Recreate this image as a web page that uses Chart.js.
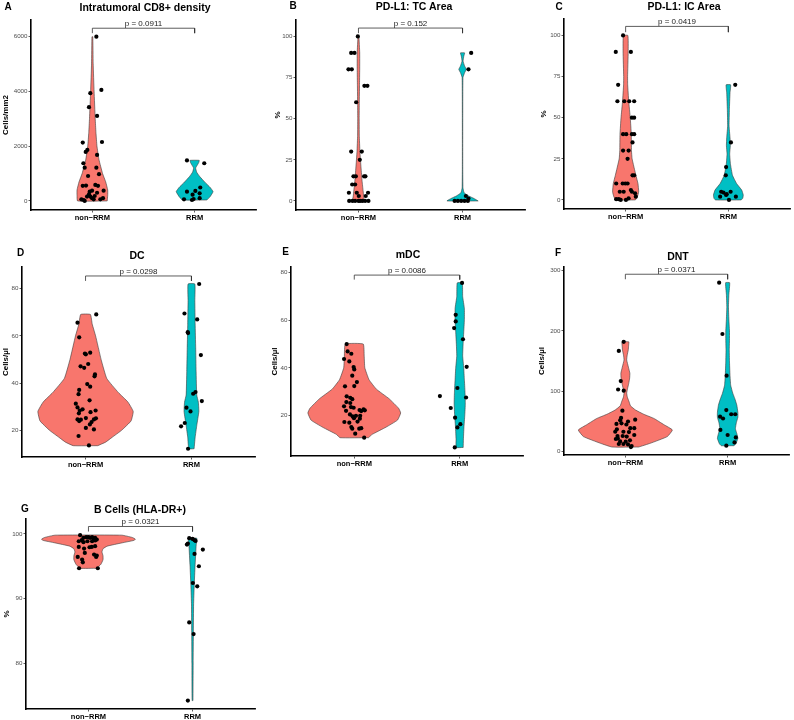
<!DOCTYPE html>
<html>
<head>
<meta charset="utf-8">
<script src="https://cdn.jsdelivr.net/npm/chart.js@4.4.0/dist/chart.umd.min.js"></script>
<style>
  html, body { margin: 0; padding: 0; background: #fff; }
  body { width: 794px; height: 720px; position: relative; overflow: hidden;
         font-family: "Liberation Sans", Arial, Helvetica, sans-serif; }
  .panel { position: absolute; }
  .tag { position: absolute; font-weight: bold; font-size: 10px; transform: translate(-50%, -50%); }
  .ttl { position: absolute; font-weight: bold; font-size: 10.5px; white-space: nowrap; transform: translate(-50%, -50%); }
</style>
</head>
<body>
<script>
const groups = ['non−RRM', 'RRM'];

// points are [jitter, value], violin outlines are [value, half width]
// A - Intratumoral CD8+ density
const cd8Ticks = [0, 2000, 4000, 6000];
const cd8NonPts = [[0.039,5990],[-0.02,3930],[0.088,4050],[-0.033,3420],[0.046,3100],[-0.094,2130],[0.094,2150],[-0.049,1860],[-0.065,1790],[0.046,1680],[-0.088,1375],[-0.075,1215],[0.039,1215],[-0.042,910],[0.065,975],[-0.094,550],[-0.062,560],[0.029,585],[0.055,550],[-0.003,375],[-0.026,340],[0.046,300],[0.11,375],[-0.052,160],[-0.003,100],[0.078,60],[-0.085,35],[-0.075,0],[0.013,60],[-0.107,60],[0.104,100],[-0.033,240],[0.023,180],[-0.02,160]];
const cd8RrmPts = [[-0.075,1480],[0.094,1375],[-0.075,340],[0.007,365],[0.055,490],[0.049,280],[-0.02,230],[-0.104,60],[-0.026,35],[-0.01,70],[0.049,100]];
const cd8NonShape = [[0,0.145],[200,0.15],[400,0.15],[700,0.13],[1000,0.1],[1500,0.065],[2000,0.045],[2500,0.035],[3000,0.028],[4000,0.017],[5000,0.008],[5990,0.004]];
const cd8RrmShape = [[35,0.12],[150,0.15],[340,0.18],[500,0.15],[645,0.11],[890,0.05],[1050,0.02],[1200,0.01],[1300,0.025],[1400,0.04],[1480,0.045]];

// B - PD-L1: TC Area
const tcTicks = [0, 25, 50, 75, 100];
const tcNonPts = [[-0.006,100],[-0.07,90],[-0.038,90],[-0.096,80],[-0.064,80],[0.057,70],[0.086,70],[-0.022,60],[-0.07,30],[0.032,30],[0.013,25],[-0.048,15],[-0.025,15],[0.054,15],[0.067,15],[-0.06,10],[-0.032,10],[-0.092,5],[-0.016,5],[0.092,5],[0.003,3],[0.07,3],[-0.089,0],[-0.057,0],[-0.032,0],[0.016,0],[0.038,0],[0.064,0],[0.096,0],[0,0]];
const tcRrmPts = [[0.083,90],[0.057,80],[0.032,3],[0.057,1.5],[-0.076,0],[-0.045,0],[-0.013,0],[0.019,0],[0.051,0]];
const tcNonShape = [[0,0.055],[3,0.05],[6,0.045],[12,0.035],[20,0.025],[30,0.014],[40,0.008],[50,0.007],[60,0.008],[70,0.01],[80,0.012],[90,0.012],[100,0.004]];
const tcRrmShape = [[0,0.15],[1.5,0.11],[3,0.06],[5,0.015],[8,0.004],[20,0.002],[50,0.002],[75,0.004],[78,0.02],[80,0.036],[82,0.02],[85,0.005],[88,0.012],[90,0.02]];

// C - PD-L1: IC Area
const icTicks = [0, 25, 50, 75, 100];
const icNonPts = [[-0.025,100],[-0.096,90],[0.051,90],[-0.073,70],[-0.08,60],[-0.013,60],[0.035,60],[0.083,60],[0.061,50],[0.083,50],[-0.025,40],[0.006,40],[0.061,40],[0.083,40],[0.067,35],[-0.025,30],[0.029,30],[0.019,25],[0.067,15],[0.083,15],[-0.092,10],[-0.029,10],[-0.003,10],[0.019,10],[-0.057,5],[-0.019,5],[0.051,6],[0.061,5],[0.092,4],[-0.067,0.5],[-0.048,0],[0.003,0],[0.029,1],[0.099,2],[-0.092,0.5]];
const icRrmPts = [[0.067,70],[0.025,35],[-0.022,20],[-0.025,15],[-0.07,5],[-0.048,4.5],[0.022,5],[-0.022,3],[-0.08,2],[0.073,2],[0.006,0],[-0.016,3.5]];
const icNonShape = [[0,0.095],[2,0.115],[5,0.127],[10,0.12],[15,0.1],[25,0.063],[30,0.057],[40,0.055],[50,0.045],[60,0.03],[70,0.02],[75,0.019],[90,0.025],[100,0.022]];
const icRrmShape = [[0,0.125],[1,0.14],[3,0.145],[6,0.13],[10,0.08],[15,0.04],[22,0.02],[28,0.013],[33,0.019],[38,0.016],[45,0.007],[55,0.01],[65,0.016],[70,0.022]];

// D - DC
const dcTicks = [20, 40, 60, 80];
const dcNonPts = [[0.101,69.1],[-0.076,65.6],[-0.06,59.4],[-0.006,52.5],[0.003,52.2],[0.044,52.9],[-0.047,47.1],[-0.013,46.5],[0.025,48.1],[0.089,43.7],[0.085,42.9],[0.016,39.6],[-0.06,37.1],[-0.066,35.3],[0.044,38.5],[0.038,32.7],[-0.092,31.3],[-0.076,29.7],[-0.054,28.4],[-0.028,28.9],[0.047,27.7],[0.095,28.4],[-0.063,27.2],[0.003,25.2],[-0.076,24.6],[-0.06,23.9],[-0.044,24.5],[0.079,24.6],[0.098,25.1],[0.057,23.5],[0.041,22.5],[0.003,21.0],[0.079,20.4],[-0.066,17.6],[0.032,13.6]];
const dcRrmPts = [[0.073,82.0],[-0.066,69.5],[-0.035,61.6],[-0.032,61.2],[0.054,67.0],[0.089,51.9],[0.016,35.5],[0.038,36.2],[0.098,32.4],[-0.047,29.6],[-0.009,28.0],[-0.063,23.1],[-0.098,21.7],[-0.032,12.2]];
const dcNonShape = [[13.5,0.115],[15,0.19],[17,0.25],[20,0.34],[24,0.43],[28,0.45],[32,0.4],[36,0.31],[42,0.2],[50,0.147],[60,0.095],[65,0.063],[69.1,0.046]];
const dcRrmShape = [[12.2,0.025],[17,0.035],[22,0.05],[28,0.07],[32,0.065],[35,0.05],[45,0.044],[55,0.04],[65,0.035],[75,0.032],[82,0.032]];

// E - mDC
const mdcTicks = [20, 40, 60, 80];
const mdcNonPts = [[-0.072,50.0],[-0.063,46.9],[-0.028,45.9],[-0.097,43.7],[-0.047,42.7],[-0.006,40.3],[0,39.3],[-0.019,36.7],[0.025,34.0],[-0.088,32.2],[0,32.3],[-0.072,28.0],[-0.038,27.4],[-0.019,26.8],[-0.075,25.6],[-0.038,25.2],[-0.097,23.8],[-0.031,23.5],[-0.006,23.2],[-0.078,21.9],[0.05,22.2],[0.088,22.5],[0.1,22.1],[0.066,21.8],[-0.041,20.4],[-0.016,19.6],[0.016,19.8],[0.056,19.8],[-0.003,18.8],[0.053,18.6],[-0.094,17.2],[-0.047,16.9],[0.031,17.4],[-0.028,15.1],[-0.019,14.4],[0.047,14.4],[0.066,14.6],[0.009,12.3],[0.094,10.6]];
const mdcRrmPts = [[0.022,75.7],[-0.038,62.3],[-0.038,59.5],[-0.053,56.7],[0.031,52.0],[0.066,40.4],[-0.022,31.5],[-0.188,28.1],[0.06,27.5],[-0.085,23.1],[-0.044,19.0],[-0.022,14.9],[0.006,16.3],[-0.047,6.5]];
const mdcNonShape = [[10.6,0.135],[12,0.17],[15,0.3],[18,0.41],[21,0.44],[23,0.42],[27,0.33],[31,0.21],[35,0.14],[40,0.1],[45,0.094],[50,0.085]];
const mdcRrmShape = [[6.5,0.033],[10,0.035],[15,0.04],[20,0.048],[25,0.053],[30,0.05],[35,0.044],[40,0.038],[45,0.028],[50,0.032],[55,0.038],[60,0.044],[65,0.044],[70,0.028],[75.7,0.024]];

// F - DNT
const dntTicks = [0, 100, 200, 300];
const dntNonPts = [[-0.016,182],[-0.064,167],[-0.045,117],[-0.071,103],[-0.016,101],[-0.029,68],[-0.042,56],[-0.051,52],[0.096,53],[0.026,50],[-0.087,46],[-0.038,47],[0.01,45],[0.048,39],[0.087,39],[-0.083,37],[-0.099,33],[-0.019,33],[0.035,32.5],[-0.077,26],[-0.026,26],[0.013,25],[0.087,27.6],[-0.093,21],[-0.074,22],[-0.051,17],[0.003,16.5],[0.045,18.8],[-0.019,12.7],[-0.064,12.7],[0.026,12.1],[0.061,9.4],[0.054,7.7]];
const dntRrmPts = [[-0.083,280],[-0.051,195],[-0.01,126],[-0.013,69],[0.035,62],[-0.074,58],[-0.045,55],[0.074,62],[-0.071,36],[0,27.6],[0.08,23.7],[0.067,15.4],[-0.013,9.9]];
const dntNonShape = [[7.7,0.13],[14,0.245],[25,0.41],[36,0.46],[45,0.375],[55,0.28],[62,0.18],[69,0.1],[76,0.05],[83,0.036],[90,0.02],[97,0.013],[105,0.022],[113,0.033],[122,0.042],[130,0.044],[140,0.03],[152,0.013],[160,0.018],[168,0.028],[176,0.032],[182,0.033]];
const dntRrmShape = [[9.9,0.062],[13,0.08],[22,0.1],[30,0.09],[38,0.076],[48,0.085],[57,0.1],[65,0.1],[77,0.09],[88,0.07],[97,0.05],[110,0.03],[127,0.023],[150,0.018],[168,0.016],[185,0.018],[200,0.018],[220,0.012],[240,0.008],[260,0.012],[280,0.02]];

// G - B Cells (HLA-DR+)
const bTicks = [80, 90, 100];
const bNonPts = [[-0.08,99.8],[-0.048,99.38],[-0.022,99.48],[0,99.48],[0.016,99.38],[0.035,99.48],[0.048,99.28],[0.064,99.38],[-0.093,98.86],[-0.064,99.02],[-0.048,98.71],[-0.01,98.86],[0.035,98.86],[0.064,98.97],[0.08,99.12],[-0.093,97.98],[-0.042,97.73],[0.01,97.93],[0.032,97.98],[0.064,98.09],[-0.035,97.05],[0.054,96.8],[-0.103,96.43],[0.074,96.43],[0.08,96.64],[-0.061,96.02],[-0.054,95.6],[-0.09,94.68],[0.09,94.68]];
const bRrmPts = [[-0.032,99.33],[0.019,99.02],[0,99.22],[0.029,98.91],[-0.054,98.35],[-0.045,98.5],[0.099,97.57],[0.019,96.9],[0.061,94.99],[0.003,92.4],[0.045,91.89],[-0.032,86.3],[0.01,84.5],[-0.045,74.2]];
const bNonShape = [[94.68,0.08],[95.3,0.12],[96.0,0.14],[96.6,0.14],[97.2,0.13],[97.7,0.14],[98.1,0.18],[98.6,0.32],[99.0,0.44],[99.2,0.45],[99.45,0.42],[99.8,0.32]];
const bRrmShape = [[74.2,0.004],[80,0.006],[85,0.008],[89,0.01],[92,0.016],[95,0.024],[98.3,0.035],[98.9,0.04],[99.33,0.04]];

// layout of the 7 panels (image px)
const panels = [
  {tag: 'A', title: 'Intratumoral CD8+ density', yTitle: 'Cells/mm2', box: [0, 0, 265, 235], area: [31, 20, 256, 210],
   yRange: [-330, 6600], yTicks: cd8Ticks, pts: [cd8NonPts, cd8RrmPts], shapes: [cd8NonShape, cd8RrmShape],
   bracket: [6120, 6300], p: 'p = 0.0911', titleAt: [145, 7], tagAt: [8, 5.5], yTitleX: 6},
  {tag: 'B', title: 'PD-L1: TC Area', yTitle: '%', box: [265, 0, 265, 235], area: [296, 20, 525, 210],
   yRange: [-5.5, 110], yTicks: tcTicks, pts: [tcNonPts, tcRrmPts], shapes: [tcNonShape, tcRrmShape],
   bracket: [102, 105.1], p: 'p = 0.152', titleAt: [414, 6], tagAt: [293, 4.5], yTitleX: 13},
  {tag: 'C', title: 'PD-L1: IC Area', yTitle: '%', box: [529, 0, 265, 235], area: [564, 19, 791, 209],
   yRange: [-5.5, 110], yTicks: icTicks, pts: [icNonPts, icRrmPts], shapes: [icNonShape, icRrmShape],
   bracket: [102, 105.5], p: 'p = 0.0419', titleAt: [684, 6], tagAt: [559, 6], yTitleX: 15},
  {tag: 'D', title: 'DC', yTitle: 'Cells/µl', box: [0, 235, 265, 235], area: [22, 267, 255, 457],
   yRange: [8.7, 89.2], yTicks: dcTicks, pts: [dcNonPts, dcRrmPts], shapes: [dcNonShape, dcRrmShape],
   bracket: [83.3, 85.4], p: 'p = 0.0298', titleAt: [137, 254.5], tagAt: [20.7, 251.7], yTitleX: 6},
  {tag: 'E', title: 'mDC', yTitle: 'Cells/µl', box: [265, 235, 265, 235], area: [291, 267, 523, 456],
   yRange: [2.9, 82.4], yTicks: mdcTicks, pts: [mdcNonPts, mdcRrmPts], shapes: [mdcNonShape, mdcRrmShape],
   bracket: [77.1, 79.0], p: 'p = 0.0086', titleAt: [408, 254], tagAt: [285.7, 251], yTitleX: 10},
  {tag: 'F', title: 'DNT', yTitle: 'Cells/µl', box: [529, 235, 265, 235], area: [564, 267, 789, 455],
   yRange: [-5.5, 306], yTicks: dntTicks, pts: [dntNonPts, dntRrmPts], shapes: [dntNonShape, dntRrmShape],
   bracket: [285.7, 294], p: 'p = 0.0371', titleAt: [678, 256], tagAt: [558, 251.7], yTitleX: 13},
  {tag: 'G', title: 'B Cells (HLA-DR+)', yTitle: '%', box: [0, 470, 265, 250], area: [26, 519, 255, 709],
   yRange: [72.9, 102.3], yTicks: bTicks, pts: [bNonPts, bRrmPts], shapes: [bNonShape, bRrmShape],
   bracket: [100.36, 101.14], p: 'p = 0.0321', titleAt: [140, 508.5], tagAt: [25, 507.8], yTitleX: 7}
];

Chart.defaults.font.family = '"Liberation Sans", Arial, Helvetica, sans-serif';
const fillCols = ['#F8766D', '#00BFC4'];

// closed violin outline: up the right side, down the left side
function outline(c, prof) {
  const right = prof.map(([v, w]) => ({x: c + w, y: v}));
  const left = prof.slice().reverse().map(([v, w]) => ({x: c - w, y: v}));
  return right.concat(left, [right[0]]);
}

function jitter(c, pts) {
  return pts.map(([dx, v]) => ({x: c + dx, y: v}));
}

// p-value text above the bracket
const pLabel = {
  id: 'pLabel',
  afterDatasetsDraw(chart, args, opts) {
    const {ctx, scales: {x, y}} = chart;
    ctx.save();
    ctx.font = '8px "Liberation Sans", Arial, sans-serif';
    ctx.fillStyle = '#222';
    ctx.textAlign = 'center';
    ctx.textBaseline = 'bottom';
    ctx.fillText(opts.text, x.getPixelForValue(1.5), y.getPixelForValue(opts.at) - 0.5);
    ctx.restore();
  }
};

panels.forEach(p => {
  const [bx, by, bw, bh] = p.box;
  const [L, T, R, B] = p.area;

  const wrap = document.createElement('div');
  wrap.className = 'panel';
  wrap.style.cssText = `left:${bx}px;top:${by}px;width:${bw}px;height:${bh}px`;
  const cv = document.createElement('canvas');
  cv.width = bw; cv.height = bh;
  cv.style.width = bw + 'px'; cv.style.height = bh + 'px';
  wrap.appendChild(cv);
  document.body.appendChild(wrap);

  const tag = document.createElement('div');
  tag.className = 'tag';
  tag.textContent = p.tag;
  tag.style.left = p.tagAt[0] + 'px'; tag.style.top = p.tagAt[1] + 'px';
  document.body.appendChild(tag);

  const ttl = document.createElement('div');
  ttl.className = 'ttl';
  ttl.textContent = p.title;
  ttl.style.left = p.titleAt[0] + 'px'; ttl.style.top = p.titleAt[1] + 'px';
  document.body.appendChild(ttl);

  const dots = (i) => ({
    data: jitter(i + 1, p.pts[i]),
    pointRadius: 2.1, pointBackgroundColor: '#000', pointBorderWidth: 0, showLine: false
  });
  const violin = (i) => ({
    data: outline(i + 1, p.shapes[i]),
    showLine: true, fill: 'shape', tension: 0.12,
    backgroundColor: fillCols[i], borderColor: '#3a3a3a', borderWidth: 0.6, pointRadius: 0
  });
  const [lo, hi] = p.bracket;

  const axisGrid = {drawOnChartArea: false, drawTicks: true, tickLength: 2.5, color: '#333', lineWidth: 0.8};
  const axisBorder = {display: true, color: '#000', width: 1.6};

  new Chart(cv, {
    type: 'scatter',
    data: {
      datasets: [
        dots(0), dots(1),
        {data: [{x: 1, y: lo}, {x: 1, y: hi}, {x: 2, y: hi}, {x: 2, y: lo}],
         showLine: true, fill: false, borderColor: '#333', borderWidth: 0.8, pointRadius: 0},
        violin(0), violin(1)
      ]
    },
    options: {
      responsive: false,
      animation: false,
      devicePixelRatio: 1,
      layout: {padding: {left: 0, top: T - by, right: bx + bw - R, bottom: 0}},
      plugins: {
        legend: {display: false},
        tooltip: {enabled: false},
        pLabel: {text: p.p, at: hi}
      },
      scales: {
        x: {
          type: 'linear', min: 0.4, max: 2.6,
          afterBuildTicks: s => { s.ticks = [{value: 1}, {value: 2}]; },
          afterFit: s => { s.height = by + bh - B; },
          ticks: {
            callback: v => groups[v - 1],
            font: {size: 7.5, weight: 'bold'}, color: '#000', padding: 1,
            autoSkip: false, maxRotation: 0
          },
          grid: axisGrid, border: axisBorder
        },
        y: {
          type: 'linear', min: p.yRange[0], max: p.yRange[1],
          afterBuildTicks: s => { s.ticks = p.yTicks.map(v => ({value: v})); },
          afterFit: s => { s.width = L - bx; },
          ticks: {callback: v => String(v), font: {size: 6.2}, color: '#4d4d4d', padding: 1},
          grid: axisGrid, border: axisBorder,
          title: {
            display: true, text: p.yTitle, color: '#000',
            font: {size: 8, weight: 'bold'},
            padding: {top: p.yTitleX - 4.8, bottom: 0}
          }
        }
      }
    },
    plugins: [pLabel]
  });
});
</script>
</body>
</html>
